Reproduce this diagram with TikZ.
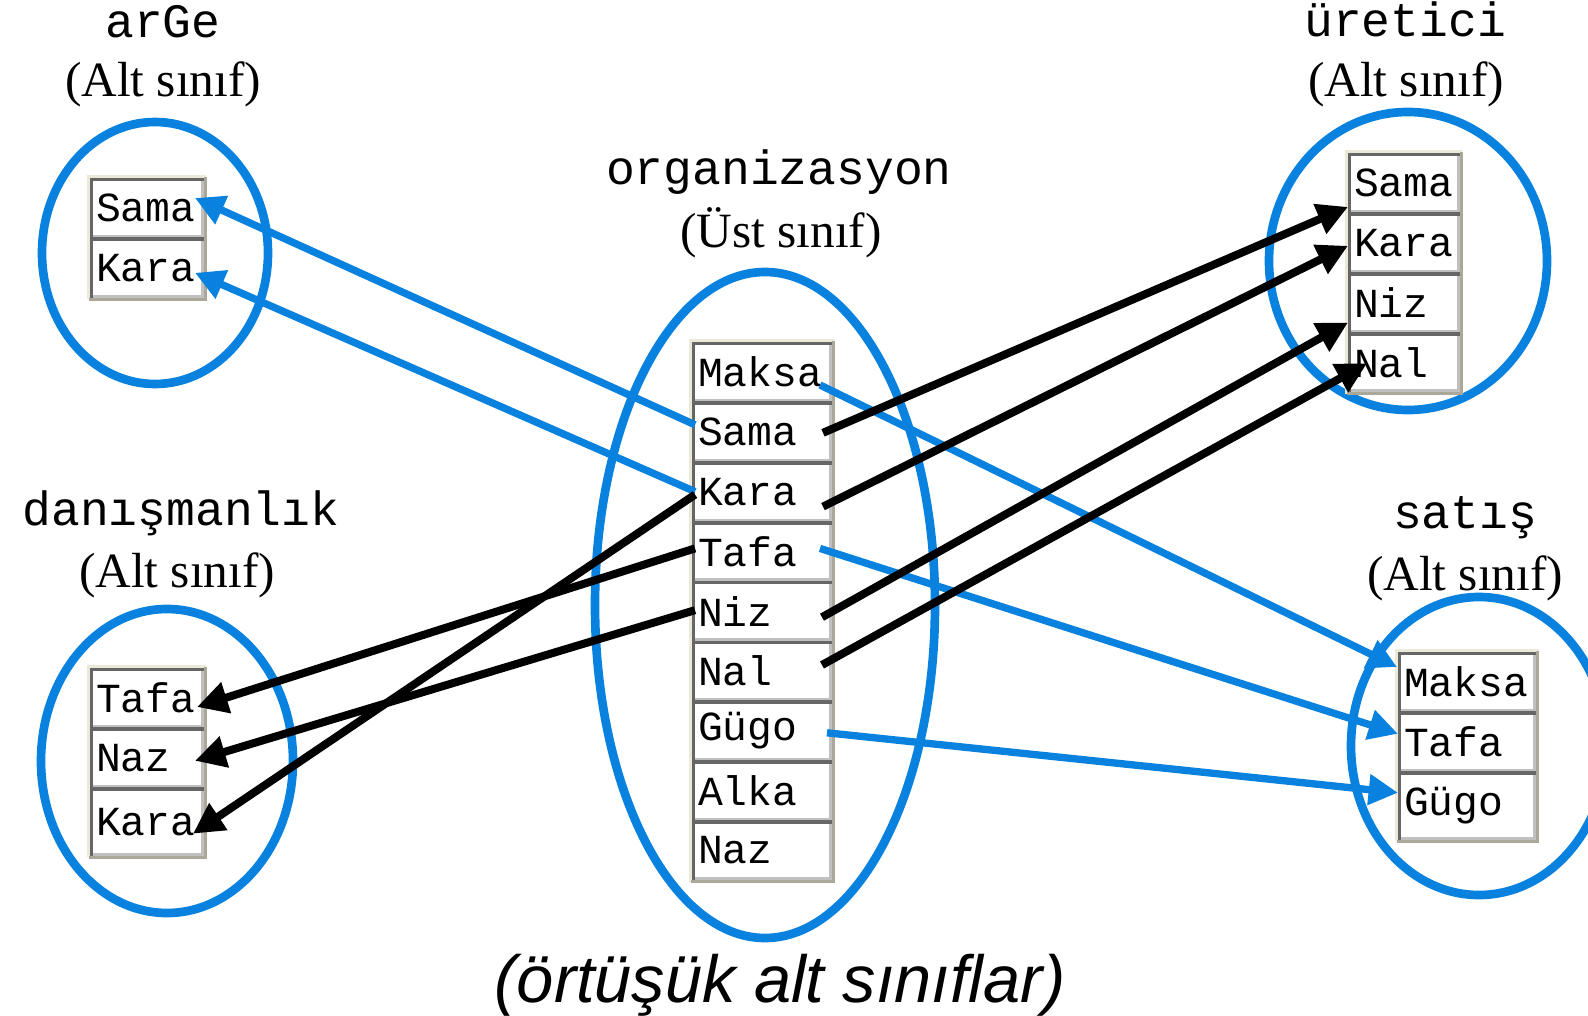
\documentclass[tikz,border=0pt]{standalone}
\usepackage{fontspec}
\setmainfont{Liberation Serif}
\setmonofont{Liberation Mono}
\newfontfamily\captionfont{Liberation Sans}
\usepackage{tikz}
\usetikzlibrary{arrows.meta,positioning}
\definecolor{set_blue}{HTML}{0882DE}
\definecolor{cell_dark}{HTML}{666666}
\definecolor{cell_light}{HTML}{C0C0C0}
\definecolor{frame_light}{HTML}{ECE9D8}
\definecolor{frame_dark}{HTML}{ACA899}

\tikzset{
  set/.style={draw=set_blue, line width=6.5pt},
  title/.style={anchor=base, font=\fontsize{36}{36}\selectfont\ttfamily},
  subtitle/.style={anchor=base, font=\fontsize{37}{37}\selectfont\rmfamily},
  cell/.style={rectangle, fill=white, outer sep=0pt, inner xsep=4.5pt, inner ysep=0pt,
    minimum height=44.85pt, text width=#1, align=left, font=\fontsize{31}{31}\selectfont\ttfamily,
    path picture={
      \draw[cell_light, line width=4.5pt] (path picture bounding box.north east)
        -- (path picture bounding box.south east) -- (path picture bounding box.south west);
      \draw[cell_dark, line width=4.5pt] (path picture bounding box.south west)
        -- (path picture bounding box.north west) -- (path picture bounding box.north east);
    }},
  framelight/.style={draw=frame_light, line width=2.25pt},
  framedark/.style={draw=frame_dark, line width=2.25pt},
  blue_arrow/.style={draw=set_blue, line width=5.5pt, -{Triangle[length=22pt,width=22pt]}},
  black_arrow/.style={draw=black, line width=6pt, -{Triangle[length=23pt,width=23pt]}},
}

\begin{document}
\begin{tikzpicture}[x=0.75pt,y=-0.75pt]
  \useasboundingbox (0,0) rectangle (1588,1016);

  % Kümeler
  \draw[set] (155,253) ellipse [x radius=113, y radius=131];
  \draw[set] (765,605) ellipse [x radius=170, y radius=333];
  \draw[set] (1408,261) ellipse [x radius=139, y radius=149];
  \draw[set] (167,761) ellipse [x radius=126, y radius=152];
  \draw[set] (1479,746) ellipse [x radius=128, y radius=149];

  % Başlıklar
  \node[title] (tArge) at (163,38) {arGe};
  \node[subtitle] (sArge) at (163,97) {(Alt sınıf)};
  \node[title] (tOrg) at (779,185) {organizasyon};
  \node[subtitle] (sOrg) at (781,248) {(Üst sınıf)};
  \node[title] (tUret) at (1405,37) {üretici};
  \node[subtitle] (sUret) at (1406,97) {(Alt sınıf)};
  \node[title] (tDan) at (181,525) {danışmanlık};
  \node[subtitle] (sDan) at (177,587) {(Alt sınıf)};
  \node[title] (tSat) at (1465,528) {satış};
  \node[subtitle] (sSat) at (1465,590) {(Alt sınıf)};

  % arGe
  \node[cell=76.5pt] (aSama) at (147,208) {Sama};
  \node[cell=76.5pt, below=0pt of aSama] (aKara) {Kara};

  % organizasyon
  \node[cell=96pt] (oMaksa) at (762,372) {Maksa};
  \node[cell=96pt, below=0pt of oMaksa] (oSama) {Sama};
  \node[cell=96pt, below=0pt of oSama] (oKara) {Kara};
  \node[cell=96pt, below=0pt of oKara] (oTafa) {Tafa};
  \node[cell=96pt, below=0pt of oTafa] (oNiz) {Niz};
  \node[cell=96pt, below=0pt of oNiz] (oNal) {Nal};
  \node[cell=96pt, below=0pt of oNal] (oGugo) {Gügo};
  \node[cell=96pt, below=0pt of oGugo] (oAlka) {Alka};
  \node[cell=96pt, below=0pt of oAlka] (oNaz) {Naz};

  % üretici
  \node[cell=75pt] (uSama) at (1404,183) {Sama};
  \node[cell=75pt, below=0pt of uSama] (uKara) {Kara};
  \node[cell=75pt, below=0pt of uKara] (uNiz) {Niz};
  \node[cell=75pt, below=0pt of uNiz] (uNal) {Nal};

  % danışmanlık
  \node[cell=76.5pt] (dTafa) at (147,698) {Tafa};
  \node[cell=76.5pt, below=0pt of dTafa] (dNaz) {Naz};
  \node[cell=76.5pt, minimum height=51pt, below=0pt of dNaz] (dKara) {Kara};

  % satış
  \node[cell=94.5pt] (sMaksa) at (1467,682) {Maksa};
  \node[cell=94.5pt, below=0pt of sMaksa] (sTafa) {Tafa};
  \node[cell=94.5pt, minimum height=51pt, below=0pt of sTafa] (sGugo) {Gügo};

  % Çerçeveler
  \draw[framelight] ([shift={(-1.5,1.5)}]aKara.south west) -- ([shift={(-1.5,-1.5)}]aSama.north west) -- ([shift={(1.5,-1.5)}]aSama.north east);
  \draw[framedark] ([shift={(1.5,-1.5)}]aSama.north east) -- ([shift={(1.5,1.5)}]aKara.south east) -- ([shift={(-1.5,1.5)}]aKara.south west);
  \draw[framelight] ([shift={(-1.5,1.5)}]oNaz.south west) -- ([shift={(-1.5,-1.5)}]oMaksa.north west) -- ([shift={(1.5,-1.5)}]oMaksa.north east);
  \draw[framedark] ([shift={(1.5,-1.5)}]oMaksa.north east) -- ([shift={(1.5,1.5)}]oNaz.south east) -- ([shift={(-1.5,1.5)}]oNaz.south west);
  \draw[framelight] ([shift={(-1.5,1.5)}]uNal.south west) -- ([shift={(-1.5,-1.5)}]uSama.north west) -- ([shift={(1.5,-1.5)}]uSama.north east);
  \draw[framedark] ([shift={(1.5,-1.5)}]uSama.north east) -- ([shift={(1.5,1.5)}]uNal.south east) -- ([shift={(-1.5,1.5)}]uNal.south west);
  \draw[framelight] ([shift={(-1.5,1.5)}]dKara.south west) -- ([shift={(-1.5,-1.5)}]dTafa.north west) -- ([shift={(1.5,-1.5)}]dTafa.north east);
  \draw[framedark] ([shift={(1.5,-1.5)}]dTafa.north east) -- ([shift={(1.5,1.5)}]dKara.south east) -- ([shift={(-1.5,1.5)}]dKara.south west);
  \draw[framelight] ([shift={(-1.5,1.5)}]sGugo.south west) -- ([shift={(-1.5,-1.5)}]sMaksa.north west) -- ([shift={(1.5,-1.5)}]sMaksa.north east);
  \draw[framedark] ([shift={(1.5,-1.5)}]sMaksa.north east) -- ([shift={(1.5,1.5)}]sGugo.south east) -- ([shift={(-1.5,1.5)}]sGugo.south west);

  % Mavi oklar
  \draw[blue_arrow] ([shift={(3,-7)}]oSama.west) -- ([shift={(-9,-10)}]aSama.east);
  \draw[blue_arrow] ([shift={(3,0)}]oKara.west) -- ([shift={(-9,5)}]aKara.east);
  \draw[blue_arrow] ([shift={(-12,13)}]oMaksa.east) -- ([shift={(-1,-15)}]sMaksa.west);
  \draw[blue_arrow] ([shift={(-12,-3)}]oTafa.east) -- ([shift={(0,-8)}]sTafa.west);
  \draw[blue_arrow] ([shift={(-5,2)}]oGugo.east) -- ([shift={(0,-13)}]sGugo.west);

  % Siyah oklar
  \draw[black_arrow] ([shift={(-9,1)}]oSama.east) -- ([shift={(0,-6)}]uSama.south west);
  \draw[black_arrow] ([shift={(-9,15)}]oKara.east) -- ([shift={(0,3)}]uKara.west);
  \draw[black_arrow] ([shift={(-10,6)}]oNiz.east) -- ([shift={(0,-10)}]uNiz.south west);
  \draw[black_arrow] ([shift={(-10,-6)}]oNal.east) -- ([shift={(19,1)}]uNal.west);
  \draw[black_arrow] ([shift={(3,3)}]oKara.west) -- ([shift={(-11,12)}]dKara.east);
  \draw[black_arrow] ([shift={(3,-3)}]oTafa.west) -- ([shift={(-7,9)}]dTafa.east);
  \draw[black_arrow] ([shift={(3,-1)}]oNiz.west) -- ([shift={(-9,3)}]dNaz.east);

  % Alt yazı
  \node[anchor=base, font=\fontsize{50}{50}\selectfont\captionfont\itshape] (caption) at (780,1002) {(örtüşük alt sınıflar)};
\end{tikzpicture}
\end{document}
